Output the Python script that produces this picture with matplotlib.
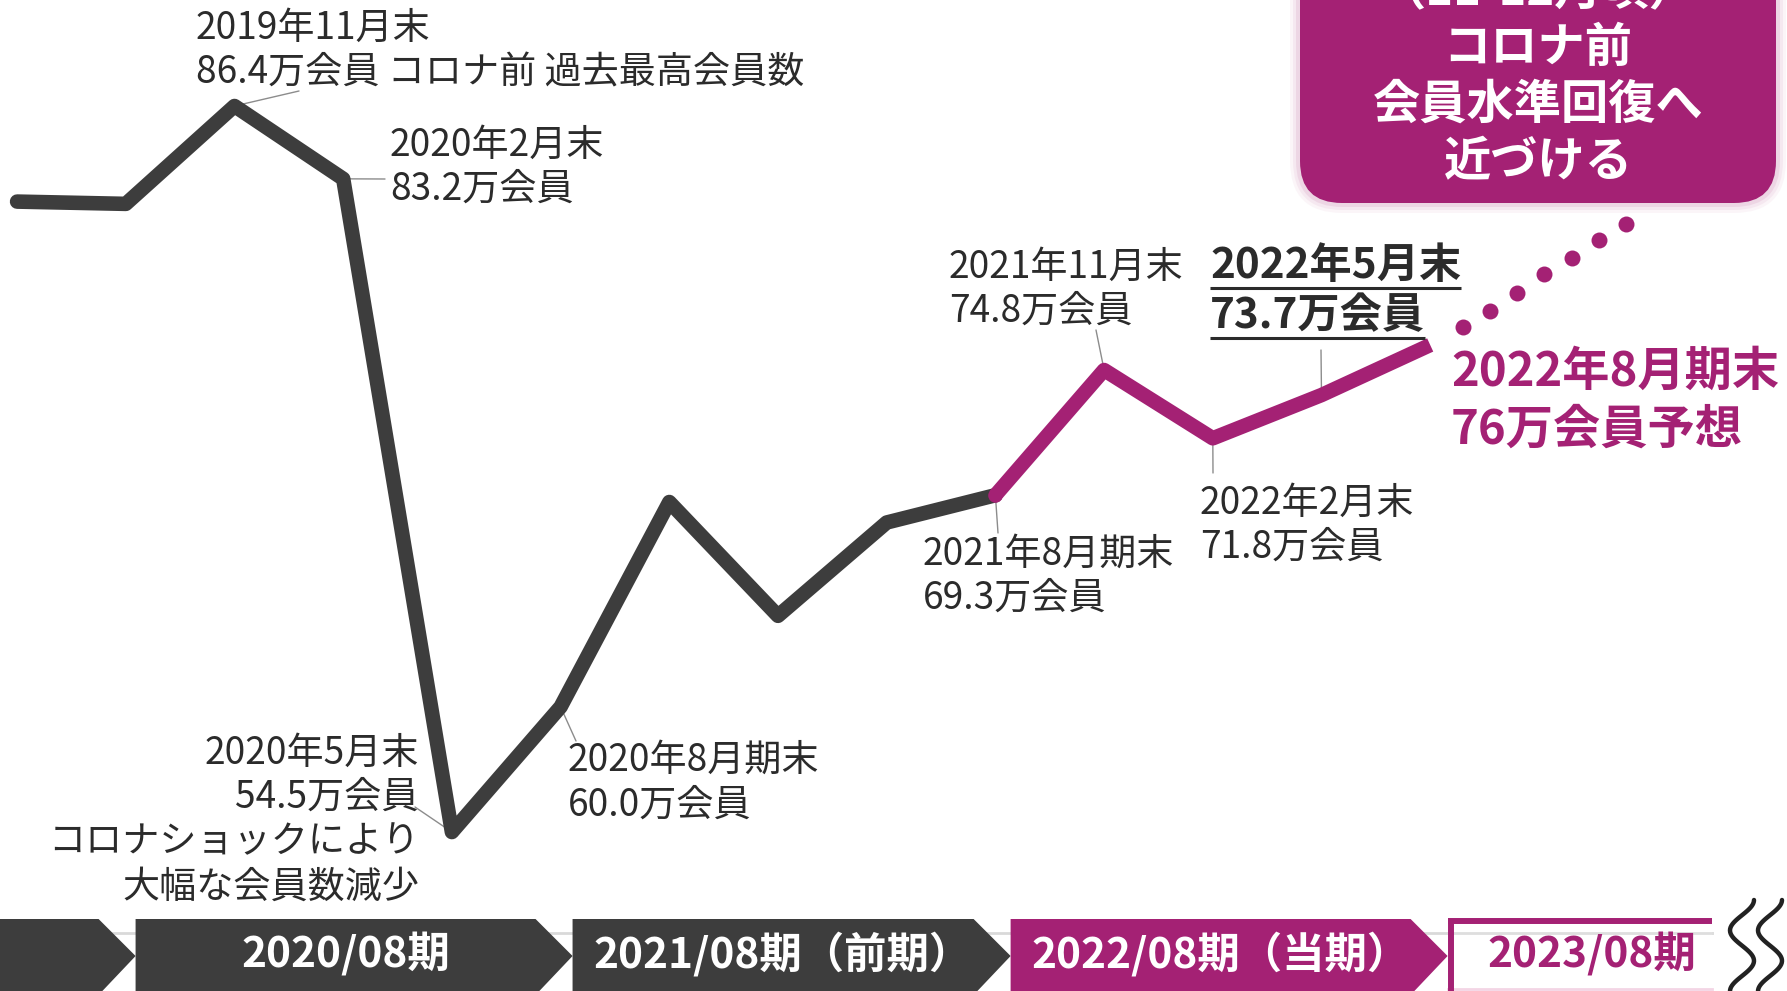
import matplotlib
matplotlib.use('Agg')
import numpy as np
import matplotlib.pyplot as plt
from matplotlib.patches import Polygon, FancyBboxPatch, Rectangle

plt.rcParams['font.family'] = ['Noto Sans CJK JP', 'DejaVu Sans']

DARK = '#3d3d3d'
MAG = '#a42174'
TXT = '#2b2b2b'
LEAD = '#8c8c8c'

# quarter ends, members in 万
months = ['2019/05', '2019/08', '2019/11', '2020/02', '2020/05', '2020/08', '2020/11',
          '2021/02', '2021/05', '2021/08', '2021/11', '2022/02', '2022/05', '2022/08']
members = [82.2, 82.1, 86.4, 83.2, 54.5, 60.0, 69.0, 64.0, 68.1, 69.3, 74.8, 71.8, 73.7, 75.9]
split = 9   # from 2021/08 drawn in magenta (当期)

# dotted outlook toward the callout
proj_x = [13.3, 13.55, 13.8, 14.05, 14.3, 14.55, 14.8]
proj_y = [76.7, 77.4, 78.2, 79.0, 79.7, 80.5, 81.2]

periods = ['', '2020/08期', '2021/08期（前期）', '2022/08期（当期）']
period_start = [-0.5, 1.09, 5.11, 9.14, 13.16]
next_period = '2023/08期'
next_end = 15.59

callout = ['（11-12月頃）', 'コロナ前', '会員水準回復へ', '近づける']

note_idx = [2, 3, 4, 5, 9, 10, 11, 12]
note_text = [
    ['2019年11月末', '86.4万会員 コロナ前 過去最高会員数'],
    ['2020年2月末', '83.2万会員'],
    ['2020年5月末', '54.5万会員', 'コロナショックにより', '大幅な会員数減少'],
    ['2020年8月期末', '60.0万会員'],
    ['2021年8月期末', '69.3万会員'],
    ['2021年11月末', '74.8万会員'],
    ['2022年2月末', '71.8万会員'],
    ['2022年5月末', '73.7万会員'],
]
forecast_text = ['2022年8月期末', '76万会員予想']

# ---- layout (pixels of the 1787x991 picture) ----
W, H = 1787, 991
X0, DX = 17.1, 108.7          # px of index 0, px per quarter
Y_REF, V_REF, DY = 106, 86.4, 22.76

fig = plt.figure(figsize=(W / 100, H / 100), dpi=100)
ax = fig.add_axes([0, 0, 1, 1])
ax.set_xlim(-X0 / DX, (W - X0) / DX)
ax.set_ylim(V_REF - (H - Y_REF) / DY, V_REF + Y_REF / DY)
ax.axis('off')
deco = fig.add_axes([0, 0, 1, 1])
deco.set_xlim(0, W)
deco.set_ylim(H, 0)
deco.axis('off')
deco.patch.set_alpha(0)


def ipx(i):
    return X0 + DX * i


# main line
x = np.arange(len(members))
ax.plot(x[:split + 1], members[:split + 1], color=DARK, lw=10.5,
        solid_capstyle='round', solid_joinstyle='round', zorder=3)
ax.plot(x[split:], members[split:], color=MAG, lw=10.5,
        solid_capstyle='butt', solid_joinstyle='round', zorder=4)
ax.plot(x[split], members[split], 'o', color=MAG, ms=10.5, mew=0, zorder=4)
ax.plot(proj_x, proj_y, 'o', color=MAG, ms=11.5, mew=0, zorder=4)

# annotations
note_pos = [(196, [28, 73], 'left'), (390, [145, 189], 'left'),
            (419, [753, 797, 842, 887], 'right'), (568, [760, 805], 'left'),
            (923, [554, 598], 'left'), (949, [267, 311], 'left'),
            (1200, [503, 547], 'left'), (1210, [266, 316], 'left')]
lead_end = [(299, 91), (385, 179), (415, 807), (576, 741),
            (998, 533), (1096, 330), (1213, 473), (1321, 350)]

underline = []
for k, (i, lines) in enumerate(zip(note_idx, note_text)):
    tx, ys, ha = note_pos[k]
    bold = (k == len(note_idx) - 1)
    for line, ty in zip(lines, ys):
        t = deco.text(tx, ty, line, ha=ha, va='center', color=TXT,
                      fontsize=30.4 if bold else 26.7,
                      fontweight='bold' if bold else 'normal')
        if bold:
            underline.append((t, ty))
    ax.annotate('', xy=(i, members[i]), xycoords='data',
                xytext=lead_end[k], textcoords=deco.transData,
                arrowprops=dict(arrowstyle='-', lw=1.0, color=LEAD,
                                shrinkA=0, shrinkB=0), zorder=2)

for line, ty in zip(forecast_text, [372, 430]):
    deco.text(1451, ty, line, ha='left', va='center', color=MAG,
              fontsize=34, fontweight='bold')

fig.canvas.draw()
r = fig.canvas.get_renderer()
for t, ty in underline:
    bb = t.get_window_extent(r)
    x_left = deco.transData.inverted().transform((bb.x0, 0))[0]
    x_right = deco.transData.inverted().transform((bb.x1, 0))[0]
    deco.plot([x_left, x_right], [ty + 22, ty + 22], color=TXT, lw=2.2,
              solid_capstyle='butt')

# callout box
bx0, bx1, by0, by1 = 1300, 1776, -80, 203
for g, a in [(10, 0.10), (7, 0.15), (4, 0.25)]:
    deco.add_patch(FancyBboxPatch((bx0 - g, by0), bx1 - bx0 + 2 * g, by1 - by0 + g,
                                  boxstyle='round,pad=0,rounding_size=%d' % (42 + g),
                                  fc='#d9a3c3', ec='none', alpha=a))
deco.add_patch(FancyBboxPatch((bx0, by0), bx1 - bx0, by1 - by0,
                              boxstyle='round,pad=0,rounding_size=42',
                              fc=MAG, ec='none'))
for line, ty in zip(callout, [-9, 48, 105, 162]):
    deco.text((bx0 + bx1) / 2, ty, line, ha='center', va='center', color='white',
              fontsize=34, fontweight='bold')

# period band
top, mid, bot, tip = 919, 956, 995, 37
deco.plot([0, ipx(next_end)], [933, 933], color='#d9d9d9', lw=2, zorder=0)
for k, name in enumerate(periods):
    a = ipx(period_start[k])
    b = ipx(period_start[k + 1])
    fc = MAG if k == len(periods) - 1 else DARK
    deco.add_patch(Polygon([(a, top), (b - tip, top), (b, mid), (b - tip, bot), (a, bot)],
                           closed=True, fc=fc, ec='none', zorder=2))
    if name:
        deco.text((a + b - tip) / 2 + 10, 954, name, ha='center', va='center',
                  color='white', fontsize=30.5, fontweight='bold', zorder=3)

a = ipx(period_start[-1])
b = ipx(next_end)
deco.add_patch(Rectangle((a, top), b - a, bot - top, fc='white', ec='none', zorder=2))
deco.plot([a + 3, a + 3], [bot, top], color=MAG, lw=4.3, solid_capstyle='butt', zorder=3)
deco.plot([a, b], [top + 2, top + 2], color=MAG, lw=4.3, solid_capstyle='butt', zorder=3)
deco.plot([a, b], [933, 933], color='#dedede', lw=2, zorder=2.5)
deco.plot([a, b], [989, 989], color='#f3d5e5', lw=2, zorder=2.5)
deco.text((a + b) / 2 + 12, 954, next_period, ha='center', va='center', color=MAG,
          fontsize=30.5, fontweight='bold', zorder=3)

# break mark
t = np.linspace(0, 1, 60)
for xc in [1742, 1770]:
    deco.plot(xc + 12 * np.cos(np.pi * t / 0.32), 900 + 95 * t, color='#222222',
              lw=3.2, solid_capstyle='round', zorder=3)

fig.savefig('out.png', dpi=100)
